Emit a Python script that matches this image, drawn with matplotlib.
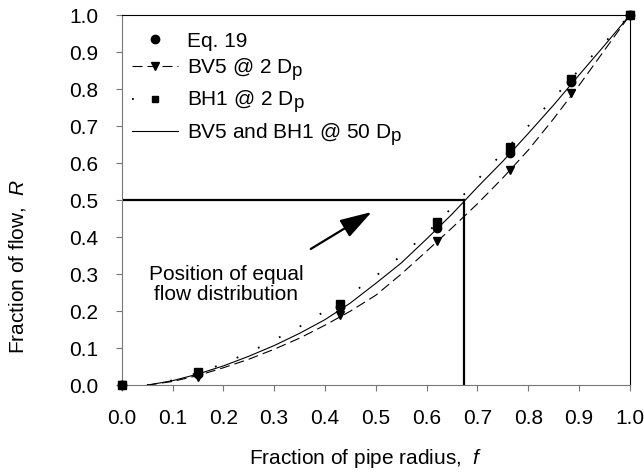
import matplotlib
matplotlib.use("Agg")
import matplotlib.pyplot as plt
from matplotlib.lines import Line2D

try:
    import matplotlib._mathtext as _mt
    _mt.SHRINK_FACTOR = 0.9  # subscripts nearly full size, as in the original
except Exception:
    pass

plt.rcParams['font.family'] = ['Liberation Sans', 'DejaVu Sans']
plt.rcParams['font.size'] = 15
plt.rcParams['mathtext.fontset'] = 'custom'
plt.rcParams['mathtext.it'] = 'Liberation Sans:italic'
plt.rcParams['mathtext.rm'] = 'Liberation Sans'

# measured points
f_pts = [0.0, 0.15, 0.43, 0.62, 0.765, 0.885, 1.0]
eq19 = [0.0, 0.030, 0.210, 0.425, 0.627, 0.819, 1.0]
bv5_2dp = [0.0, 0.023, 0.190, 0.389, 0.581, 0.789, 1.0]
bh1_2dp = [0.0, 0.035, 0.220, 0.440, 0.643, 0.827, 1.0]

# curves
f_line = [0.05, 0.1, 0.15, 0.2, 0.25, 0.3, 0.35, 0.4, 0.45, 0.5,
          0.55, 0.6, 0.65, 0.7, 0.75, 0.8, 0.85, 0.9, 0.95, 1.0]
r_50dp = [0.0, 0.012, 0.03, 0.052, 0.078, 0.107, 0.14, 0.177, 0.222, 0.275,
          0.33, 0.395, 0.462, 0.535, 0.605, 0.68, 0.757, 0.838, 0.918, 1.0]
r_bv5 = [0.0, 0.01, 0.026, 0.047, 0.07, 0.097, 0.127, 0.162, 0.2, 0.243,
         0.3, 0.362, 0.425, 0.49, 0.56, 0.635, 0.72, 0.81, 0.905, 1.0]
r_bh1 = [0.0, 0.013, 0.033, 0.058, 0.088, 0.122, 0.158, 0.2, 0.245, 0.295,
         0.35, 0.41, 0.48, 0.555, 0.628, 0.7, 0.775, 0.852, 0.925, 1.0]

f_equal = 0.673
r_equal = 0.5

fig = plt.figure(figsize=(6.44, 4.72), dpi=100)
ax = fig.add_axes([0.189, 0.184, 0.789, 0.784])

dash = (0, (9, 4.5))
dot = (0, (1, 12))

ax.plot(f_line, r_50dp, color='black', lw=0.8)
ax.plot(f_line, r_bv5, color='black', lw=0.8, linestyle=dash)
ax.plot(f_line, r_bh1, color='black', lw=1.3, linestyle=dot)

ax.plot(f_pts, bh1_2dp, 's', color='black', ms=5.5, clip_on=False, zorder=4)
ax.plot(f_pts, bv5_2dp, 'v', color='black', ms=6, clip_on=False, zorder=4)
ax.plot(f_pts, eq19, 'o', color='black', ms=6, clip_on=False, zorder=5)

# equal flow box
ax.plot([0, f_equal], [r_equal, r_equal], color='black', lw=1.6)
ax.plot([f_equal, f_equal], [0, r_equal], color='black', lw=1.6)

ax.annotate('', xy=(0.492, 0.468), xytext=(0.372, 0.368),
            arrowprops=dict(arrowstyle='-|>,head_length=1.3,head_width=0.4',
                            mutation_scale=15, color='black', lw=1.6,
                            shrinkA=0, shrinkB=0))
ax.text(0.205, 0.272, 'Position of equal\nflow distribution', ha='center', va='center',
        linespacing=1.1)

handles = [
    Line2D([], [], marker='o', color='black', linestyle='none', ms=6),
    Line2D([], [], marker='v', color='black', linestyle=dash, lw=0.8, ms=6),
    Line2D([], [], marker='s', color='black', linestyle=dot, lw=1.3, ms=5),
    Line2D([], [], color='black', lw=0.8),
]
labels = ['Eq. 19', 'BV5 @ 2 D$_\\mathregular{p}$', 'BH1 @ 2 D$_\\mathregular{p}$',
          'BV5 and BH1 @ 50 D$_\\mathregular{p}$']
ax.legend(handles, labels, loc='upper left', bbox_to_anchor=(0.02, 0.955),
          frameon=False, borderpad=0, borderaxespad=0, handlelength=2.2,
          handletextpad=0.45, labelspacing=0.27)

ax.set_xlim(0, 1)
ax.set_ylim(0, 1)
ax.set_xticks([i / 10 for i in range(11)])
ax.set_yticks([i / 10 for i in range(11)])
ax.set_xticklabels(['%.1f' % (i / 10) for i in range(11)])
ax.set_yticklabels(['%.1f' % (i / 10) for i in range(11)])
ax.tick_params(direction='out', length=4, width=0.8, color='#777777', pad=13)
for side in ['left', 'bottom']:
    ax.spines[side].set_color('#777777')
for side in ['top', 'right']:
    ax.spines[side].set_color('black')

ax.set_xlabel('Fraction of pipe radius,  $f$', va='center')
ax.set_ylabel('Fraction of flow,  $R$', va='center')
ax.xaxis.set_label_coords(0.48, -0.197)
ax.yaxis.set_label_coords(-0.205, 0.32)

fig.savefig('out.png', dpi=100)
